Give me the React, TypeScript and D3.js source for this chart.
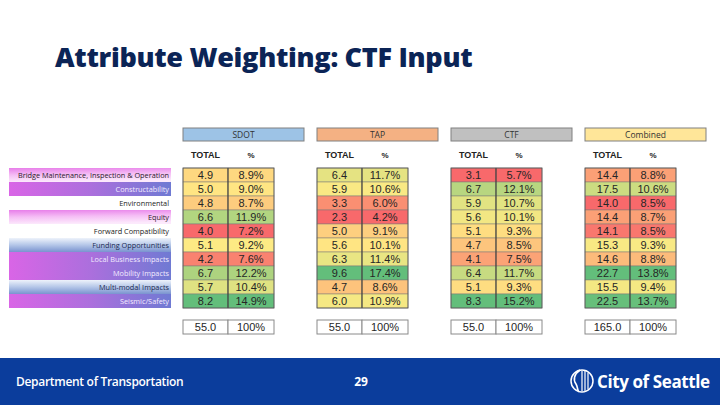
import React from "react";
import * as d3 from "d3";

const attributes = [
  "Bridge Maintenance, Inspection & Operation",
  "Constructability",
  "Environmental",
  "Equity",
  "Forward Compatibility",
  "Funding Opportunities",
  "Local Business Impacts",
  "Mobility Impacts",
  "Multi-modal Impacts",
  "Seismic/Safety",
];
const labelStyles = ["pink", "violet", "plain", "pink", "plain", "blue", "violet", "violet", "blue", "violet"];

const groupNames = ["SDOT", "TAP", "CTF", "Combined"];
const sdotTotal = [4.9, 5.0, 4.8, 6.6, 4.0, 5.1, 4.2, 6.7, 5.7, 8.2];
const sdotPct = [8.9, 9.0, 8.7, 11.9, 7.2, 9.2, 7.6, 12.2, 10.4, 14.9];
const tapTotal = [6.4, 5.9, 3.3, 2.3, 5.0, 5.6, 6.3, 9.6, 4.7, 6.0];
const tapPct = [11.7, 10.6, 6.0, 4.2, 9.1, 10.1, 11.4, 17.4, 8.6, 10.9];
const ctfTotal = [3.1, 6.7, 5.9, 5.6, 5.1, 4.7, 4.1, 6.4, 5.1, 8.3];
const ctfPct = [5.7, 12.1, 10.7, 10.1, 9.3, 8.5, 7.5, 11.7, 9.3, 15.2];
const combinedTotal = [14.4, 17.5, 14.0, 14.4, 14.1, 15.3, 14.6, 22.7, 15.5, 22.5];
const combinedPct = [8.8, 10.6, 8.5, 8.7, 8.5, 9.3, 8.8, 13.8, 9.4, 13.7];
const sumTotals = ["55.0", "55.0", "55.0", "165.0"];
const sumPcts = ["100%", "100%", "100%", "100%"];

const groupTotals = [sdotTotal, tapTotal, ctfTotal, combinedTotal];
const groupPcts = [sdotPct, tapPct, ctfPct, combinedPct];
const headerFills = ["#9dc3e6", "#f4b183", "#c0c0c0", "#ffe699"];

const groupX = d3.scalePoint<string>().domain(groupNames).range([183, 585]);
const rowY = d3.scaleBand<string>().domain(attributes).range([168, 308]);
const col1W = 45;
const col2W = 46;
const headerW = 121;

function colorScale(vals: number[]) {
  const sorted = [...vals].sort(d3.ascending);
  return d3
    .scaleLinear<string>()
    .domain([d3.min(sorted)!, d3.quantileSorted(sorted, 0.5)!, d3.max(sorted)!])
    .range(["#f8696b", "#ffeb84", "#63be7b"])
    .interpolate(d3.interpolateRgb);
}

const labelFill: Record<string, string> = {
  pink: "url(#gPink)",
  violet: "url(#gViolet)",
  blue: "url(#gBlue)",
  plain: "#ffffff",
};
const labelColor: Record<string, string> = {
  pink: "#2a1a2a",
  violet: "#f3ecff",
  blue: "#1c2a52",
  plain: "#222222",
};

export default function App() {
  const rh = rowY.bandwidth();
  return (
    <svg
      width={720}
      height={405}
      style={{ position: "absolute", left: 0, top: 0, display: "block", background: "#fff" }}
    >
      <defs>
        <linearGradient id="gPink" x1="0" y1="0" x2="0.15" y2="1">
          <stop offset="0" stopColor="#e77de9" />
          <stop offset="0.5" stopColor="#f5bdf5" />
          <stop offset="1" stopColor="#fce9fc" />
        </linearGradient>
        <linearGradient id="gViolet" x1="0" y1="0" x2="1" y2="0">
          <stop offset="0" stopColor="#d965e6" />
          <stop offset="0.5" stopColor="#ac6fdd" />
          <stop offset="1" stopColor="#6f7ad3" />
        </linearGradient>
        <linearGradient id="gBlue" x1="0" y1="0" x2="0" y2="1">
          <stop offset="0" stopColor="#eef3fb" />
          <stop offset="0.5" stopColor="#b4c6e8" />
          <stop offset="1" stopColor="#7a93cf" />
        </linearGradient>
      </defs>

      <text
        x={55}
        y={67}
        fontFamily="'Open Sans', sans-serif"
        fontWeight={800}
        fontSize={27}
        fill="#0b2456"
        letterSpacing={-0.3}
      >
        Attribute Weighting: CTF Input
      </text>

      {/* row labels */}
      {attributes.map((a, i) => (
        <g key={a}>
          <rect x={9} y={rowY(a)!} width={162} height={rh} fill={labelFill[labelStyles[i]]} />
          <text
            x={169}
            y={rowY(a)! + rh / 2 + 3}
            textAnchor="end"
            fontFamily="'Open Sans', sans-serif"
            fontSize={7.3}
            fill={labelColor[labelStyles[i]]}
          >
            {a}
          </text>
        </g>
      ))}

      {groupNames.map((g, gi) => {
        const x0 = groupX(g)!;
        const tot = groupTotals[gi];
        const pct = groupPcts[gi];
        const cs = colorScale(tot);
        return (
          <g key={g}>
            <rect x={x0} y={128} width={headerW} height={13} fill={headerFills[gi]} stroke="#808080" strokeWidth={1} />
            <text
              x={x0 + headerW / 2}
              y={138}
              textAnchor="middle"
              fontFamily="'Open Sans', sans-serif"
              fontSize={8.5}
              fill="#333"
            >
              {g}
            </text>
            <text
              x={x0 + col1W / 2}
              y={158}
              textAnchor="middle"
              fontFamily="'Liberation Sans', Arial, sans-serif"
              fontWeight={700}
              fontSize={9}
              fill="#222"
            >
              TOTAL
            </text>
            <text
              x={x0 + col1W + col2W / 2}
              y={158}
              textAnchor="middle"
              fontFamily="'Liberation Sans', Arial, sans-serif"
              fontWeight={700}
              fontSize={8}
              fill="#222"
            >
              %
            </text>
            {attributes.map((a, i) => {
              const y = rowY(a)!;
              const fill = cs(tot[i]);
              return (
                <g key={a}>
                  <rect x={x0} y={y} width={col1W} height={rh} fill={fill} stroke="#7a7a7a" strokeWidth={0.5} />
                  <rect x={x0 + col1W} y={y} width={col2W} height={rh} fill={fill} stroke="#7a7a7a" strokeWidth={0.5} />
                  <text
                    x={x0 + col1W / 2}
                    y={y + rh / 2 + 4}
                    textAnchor="middle"
                    fontFamily="'Liberation Sans', Arial, sans-serif"
                    fontSize={11}
                    fill="#262626"
                  >
                    {tot[i].toFixed(1)}
                  </text>
                  <text
                    x={x0 + col1W + col2W / 2}
                    y={y + rh / 2 + 4}
                    textAnchor="middle"
                    fontFamily="'Liberation Sans', Arial, sans-serif"
                    fontSize={11}
                    fill="#262626"
                  >
                    {pct[i].toFixed(1)}%
                  </text>
                </g>
              );
            })}
            <line x1={x0 + col1W} x2={x0 + col1W} y1={168} y2={308} stroke="#333" strokeWidth={1} />
            <rect x={x0} y={168} width={col1W + col2W} height={140} fill="none" stroke="#555" strokeWidth={0.8} />
            <rect x={x0} y={320} width={col1W} height={14} fill="#fff" stroke="#8a8a8a" strokeWidth={1} />
            <rect x={x0 + col1W} y={320} width={col2W} height={14} fill="#fff" stroke="#8a8a8a" strokeWidth={1} />
            <text
              x={x0 + col1W / 2}
              y={331}
              textAnchor="middle"
              fontFamily="'Liberation Sans', Arial, sans-serif"
              fontSize={11}
              fill="#262626"
            >
              {sumTotals[gi]}
            </text>
            <text
              x={x0 + col1W + col2W / 2}
              y={331}
              textAnchor="middle"
              fontFamily="'Liberation Sans', Arial, sans-serif"
              fontSize={11}
              fill="#262626"
            >
              {sumPcts[gi]}
            </text>
          </g>
        );
      })}

      {/* footer */}
      <rect x={0} y={358} width={720} height={47} fill="#0b3d9c" />
      <text x={16} y={386} fontFamily="'Open Sans', sans-serif" fontWeight={600} fontSize={12} fill="#fff" letterSpacing={-0.3}>
        Department of Transportation
      </text>
      <text x={361} y={386} textAnchor="middle" fontFamily="'Open Sans', sans-serif" fontWeight={700} fontSize={12} fill="#fff">
        29
      </text>
      <g transform="translate(582,381)">
        <circle r={11} fill="none" stroke="#fff" strokeWidth={1.5} />
        <path d="M-2,-11 C-8,-7 -9,-1 -6,3 C-4,6 -5,9 -3,11" fill="none" stroke="#fff" strokeWidth={1.6} />
        <path d="M0,-10 L0,10 M3,-10 L3,10 M6,-8 L6,8" fill="none" stroke="#fff" strokeWidth={1.2} />
      </g>
      <text x={597} y={388} fontFamily="'Open Sans', sans-serif" fontWeight={700} fontSize={17} fill="#fff" letterSpacing={-0.4}>
        City of Seattle
      </text>
    </svg>
  );
}
